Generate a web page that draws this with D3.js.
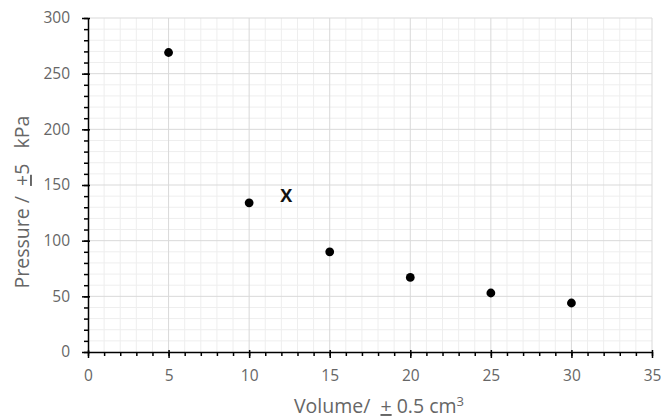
<!DOCTYPE html>
<html>
<head>
<meta charset="utf-8">
<script src="https://cdn.jsdelivr.net/npm/d3@7"></script>
<style>
  body { margin: 0; background: #fff; }
  text { font-family: "Open Sans", "Liberation Sans", sans-serif; }
</style>
</head>
<body>
<div class="chart"></div>
<script>
// data
let volumes = [5, 10, 15, 20, 25, 30];
let pressures = [269, 134, 90, 67, 53, 44];
let xTicks = [0, 5, 10, 15, 20, 25, 30, 35];
let yTicks = [0, 50, 100, 150, 200, 250, 300];
let outlier = {volume: 12.3, pressure: 141, label: "X"};

let margin = {top: 18, right: 9, bottom: 68, left: 88};
let width = 661 - margin.left - margin.right;
let height = 420 - margin.top - margin.bottom;

let svg = d3.select(".chart").append("svg")
    .attr("width", 661)
    .attr("height", 420)
    .append("g")
    .attr("transform", "translate(" + margin.left + "," + margin.top + ")");

let x = d3.scaleLinear().domain([0, 35]).range([0, width]);
let y = d3.scaleLinear().domain([0, 300]).range([height, 0]);

// minor grid
svg.append("g").selectAll("line")
    .data(d3.range(1, 36).filter(d => d % 5 != 0))
    .enter().append("line")
    .attr("x1", d => x(d)).attr("x2", d => x(d))
    .attr("y1", 0).attr("y2", height)
    .attr("stroke", "#eeeeee");
svg.append("g").selectAll("line")
    .data(d3.range(10, 301, 10).filter(d => d % 50 != 0))
    .enter().append("line")
    .attr("x1", 0).attr("x2", width)
    .attr("y1", d => y(d)).attr("y2", d => y(d))
    .attr("stroke", "#eeeeee");

// major grid
svg.append("g").selectAll("line")
    .data(xTicks.slice(1))
    .enter().append("line")
    .attr("x1", d => x(d)).attr("x2", d => x(d))
    .attr("y1", 0).attr("y2", height)
    .attr("stroke", "#d9d9d9");
svg.append("g").selectAll("line")
    .data(yTicks.slice(1))
    .enter().append("line")
    .attr("x1", 0).attr("x2", width)
    .attr("y1", d => y(d)).attr("y2", d => y(d))
    .attr("stroke", "#d9d9d9");

// axes: minor ticks
svg.append("g")
    .attr("transform", "translate(0," + height + ")")
    .call(d3.axisBottom(x).tickValues(d3.range(0, 36)).tickSize(4).tickSizeOuter(0).tickFormat(""))
    .call(g => g.selectAll("path,line").attr("stroke", "#000").attr("stroke-width", 1.5));
svg.append("g")
    .call(d3.axisLeft(y).tickValues(d3.range(0, 301, 10)).tickSize(4).tickSizeOuter(0).tickFormat(""))
    .call(g => g.selectAll("path,line").attr("stroke", "#000").attr("stroke-width", 1.5));

// axes: major ticks + labels
let xAxis = svg.append("g")
    .attr("transform", "translate(0," + height + ")")
    .call(d3.axisBottom(x).tickValues(xTicks).tickSize(6).tickPadding(12));
xAxis.select(".domain").remove();
xAxis.selectAll("line").attr("stroke", "#000").attr("stroke-width", 1.5).attr("y1", -2);
xAxis.selectAll("text").attr("fill", "#666").style("font-size", "15.5px");

let yAxis = svg.append("g")
    .call(d3.axisLeft(y).tickValues(yTicks).tickSize(6).tickPadding(12));
yAxis.select(".domain").remove();
yAxis.selectAll("line").attr("stroke", "#000").attr("stroke-width", 1.5).attr("x1", 2);
yAxis.selectAll("text").attr("fill", "#666").style("font-size", "15.5px");

// points
svg.append("g").selectAll("circle")
    .data(volumes)
    .enter().append("circle")
    .attr("cx", d => x(d))
    .attr("cy", (d, i) => y(pressures[i]))
    .attr("r", 4.4)
    .attr("fill", "#000");

// outlier mark
svg.append("text")
    .attr("x", x(outlier.volume))
    .attr("y", y(outlier.pressure))
    .attr("text-anchor", "middle")
    .attr("dy", "0.36em")
    .style("font-size", "18px")
    .style("font-weight", "bold")
    .attr("fill", "#111")
    .text(outlier.label);

// axis titles
let xt = svg.append("text")
    .attr("x", 379 - margin.left)
    .attr("y", 413 - margin.top)
    .attr("text-anchor", "middle")
    .attr("fill", "#666")
    .style("white-space", "pre")
    .style("font-size", "19.5px");
xt.append("tspan").text("Volume/  ");
xt.append("tspan").style("text-decoration", "underline").text("+");
xt.append("tspan").text(" 0.5 cm");
xt.append("tspan").attr("dy", "-7").style("font-size", "13px").text("3");

let yt = svg.append("text")
    .attr("transform", "translate(" + (29 - margin.left) + "," + (202 - margin.top) + ") rotate(-90)")
    .attr("text-anchor", "middle")
    .attr("fill", "#666")
    .style("white-space", "pre")
    .style("font-size", "19.5px");
yt.append("tspan").text("Pressure /  ");
yt.append("tspan").style("text-decoration", "underline").text("+");
yt.append("tspan").text("5   kPa");
</script>
</body>
</html>
